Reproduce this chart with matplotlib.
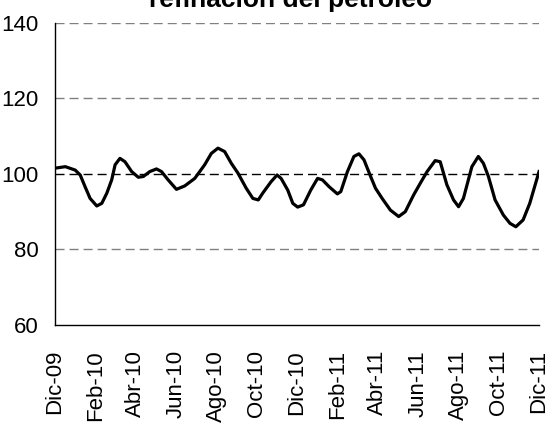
import matplotlib
matplotlib.use("Agg")
import matplotlib.pyplot as plt

plt.rcParams["font.family"] = ["Liberation Sans Narrow", "Liberation Sans", "DejaVu Sans"]

title = "refinación del petróleo"

# months since Dic-09
months = [0, 0.51, 1.0, 1.25, 1.49, 1.74, 2.07, 2.32, 2.57, 2.81, 2.98, 3.22,
          3.47, 3.80, 4.13, 4.38, 4.70, 5.03, 5.28, 5.61, 6.02, 6.43, 6.93,
          7.42, 7.75, 8.08, 8.41, 8.74, 9.07, 9.48, 9.81, 10.08, 10.30, 10.71,
          11.01, 11.21, 11.54, 11.79, 12.03, 12.32, 12.68, 13.02, 13.26, 13.59,
          14.00, 14.17, 14.50, 14.82, 15.07, 15.32, 15.65, 15.89, 16.22, 16.63,
          17.04, 17.37, 17.78, 18.11, 18.45, 18.85, 19.10, 19.43, 19.76, 20.01,
          20.25, 20.67, 20.99, 21.24, 21.49, 21.82, 22.23, 22.56, 22.85, 23.21,
          23.54, 24.0]
values = [101.5, 101.9, 101.0, 99.7, 96.6, 93.5, 91.5, 92.2, 94.9, 98.4, 102.4,
          104.1, 103.2, 100.6, 99.1, 99.3, 100.6, 101.3, 100.6, 98.4, 95.9, 96.8,
          98.8, 102.4, 105.4, 106.8, 105.9, 102.8, 100.2, 96.2, 93.5, 93.1, 94.9,
          97.9, 99.7, 98.8, 95.7, 92.2, 91.2, 91.8, 95.7, 98.8, 98.4, 96.6, 94.7,
          95.3, 100.6, 104.6, 105.3, 103.7, 99.3, 96.2, 93.5, 90.4, 88.7, 90.0,
          94.4, 97.5, 100.6, 103.5, 103.2, 97.1, 93.1, 91.3, 93.5, 101.9, 104.6,
          102.8, 99.3, 93.1, 89.1, 86.9, 86.0, 87.8, 92.2, 100.6]

tick_pos = list(range(0, 25, 2))
tick_labels = ["Dic-09", "Feb-10", "Abr-10", "Jun-10", "Ago-10", "Oct-10", "Dic-10",
               "Feb-11", "Abr-11", "Jun-11", "Ago-11", "Oct-11", "Dic-11"]
y_ticks = [60, 80, 100, 120, 140]

fig = plt.figure(figsize=(5.54, 4.30), dpi=100)
ax = fig.add_axes([0.0993, 0.2442, 0.8737, 0.703])

for yv in y_ticks[1:]:
    col = "black" if yv == 100 else "#808080"
    ax.axhline(yv, color=col, lw=1.0, linestyle=(0, (6.5, 3.6)), zorder=1)

ax.plot(months, values, color="black", lw=2.3, solid_joinstyle="round", zorder=3)

ax.set_xlim(0, 24)
ax.set_ylim(60, 140)
ax.set_yticks(y_ticks)
ax.set_yticklabels([str(v) for v in y_ticks], fontsize=16)
ax.set_xticks(tick_pos)
ax.set_xticklabels(tick_labels, rotation=90, fontsize=16)
ax.tick_params(axis="both", length=0)
ax.tick_params(axis="y", pad=12)
ax.tick_params(axis="x", pad=18)

for s in ["top", "right"]:
    ax.spines[s].set_visible(False)
ax.spines["left"].set_linewidth(1.0)
ax.spines["bottom"].set_linewidth(1.0)

fig.text(291 / 554, 1 - 7 / 430, title, ha="center", va="baseline",
         fontsize=19, fontweight="bold")

fig.savefig("out.png", dpi=100)
